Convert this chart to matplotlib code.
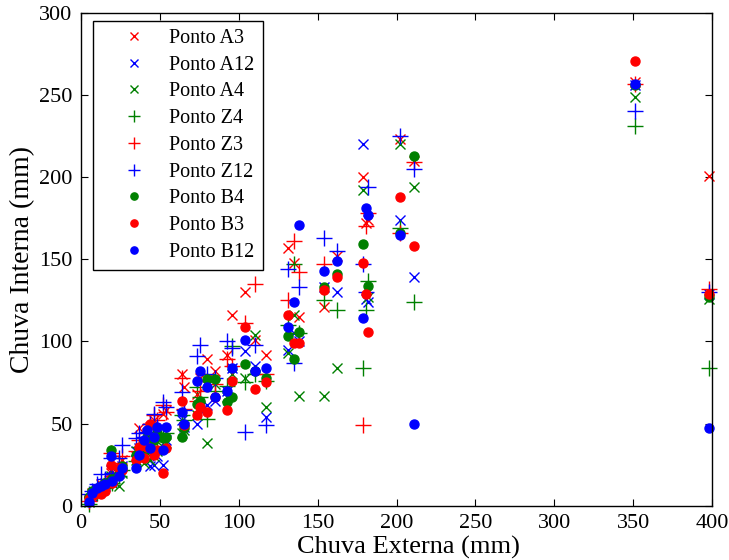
import numpy as np
import matplotlib
matplotlib.use("Agg")
import matplotlib.pyplot as plt

nan = np.nan

# external rainfall per event (mm)
chuva_externa = [5, 7, 10, 13, 15, 19, 20, 24, 26, 35, 37, 40, 42, 44, 46, 48, 52, 54,
                 64, 65, 73.5, 75.5, 80, 85, 92.5, 95.5, 104, 110, 117, 131, 135, 138,
                 154, 162, 179, 180.5, 182, 202, 211, 351, 398]

# internal rainfall (mm) per measuring point, same order as chuva_externa
ponto_a3 = [4, 8, 10, 13, 14, 20, 16, 22, 28, 30, 47, 38, 44, 48, 52, 45, 56, 58,
            80, 72, 68, 78, 89, 82, 92, 116, 130, 101, 92, 157, 148, 115,
            121, 152, 200, 172, 174, 223, 210, 258, 201]
ponto_a12 = [3, 6, 8, 10, 12, 22, 15, 20, 24, 33, 35, 30, 36, 24, 25, 30, 25, 40,
             52, 48, 50, 58, 61, 64, 70, 84, 94, 85, 54, 95, 105, 100,
             133, 130, 220, 126, 124, 174, 139, 256, 129]
ponto_a4 = [2, 7, 9, 11, 13, 18, 14, 12, 20, 28, 30, 26, 32, 28, 30, 33, 36, 38,
            44, 46, 55, 60, 38, 74, 66, 80, 78, 104, 60, 93, 116, 67,
            67, 84, 192, nan, 127, 220, 194, 249, 126]
ponto_z4 = [1, 5, 8, 10, 11, 17, 14, 18, 22, 27, 36, 32, 38, 33, 35, 40, 42, 44,
            55, 52, 72, 66, 53, 70, 73, 97, 75, 80, 76, 110, 147, 105,
            125, 119, 84, 119, 137, 169, 124, 231, 84]
ponto_z3 = [3, 6, 9, 12, 14, 32, 18, 26, 30, 33, 40, 36, 44, 50, 55, 52, 61, 57,
            78, 59, 64, 70, 76, 74, 89, 85, 111, 135, 80, 125, 161, 142,
            147, nan, 49, 170, 178, 166, 209, 257, 132]
ponto_z12 = [7, 9, 13, 19, 16, 29, 20, 29, 37, 41, 44, 42, 45, 50, 56, 48, 63, 60,
             69, 58, 91, 98, 80, 78, 100, 96, 45, 98, 49, 144, 87, 133,
             163, 155, 147, 130, 194, 225, 205, 240, 130]
ponto_b4 = [5, 9, 10, 12, 14, 34, 16, 19, 24, 31, 35, 33, 42, 38, 40, 44, 41, 42,
            42, 47, 62, 64, 77, 77, 63, 66, 86, 82, 78, 103, 89, 106,
            133, 141, 159, nan, 134, 166, 213, 256, 127]
ponto_b3 = [4, 6, 8, 7, 9, 25, 14, 23, 22, 28, 36, 29, 36, 50, 31, 34, 20, 35,
            64, 49, 55, 60, 57, 66, 58, 76, 109, 71, 75, 116, 99, 99,
            131, 139, 148, 129, 106, 188, 158, 271, 129]
ponto_b12 = [2, 8, 11, 12, 13, 30, 15, 18, 23, 23, 31, 40, 46, 35, 42, 48, 34, 48,
             57, 50, 76, 82, 72, 66, 70, 84, 101, 82, 84, 109, 124, 171,
             143, 149, 114, 181, 177, 165, 50, 257, 47]

series = [
    ("Ponto A3", ponto_a3, "x", "red"),
    ("Ponto A12", ponto_a12, "x", "blue"),
    ("Ponto A4", ponto_a4, "x", "green"),
    ("Ponto Z4", ponto_z4, "+", "green"),
    ("Ponto Z3", ponto_z3, "+", "red"),
    ("Ponto Z12", ponto_z12, "+", "blue"),
    ("Ponto B4", ponto_b4, "o", "green"),
    ("Ponto B3", ponto_b3, "o", "red"),
    ("Ponto B12", ponto_b12, "o", "blue"),
]

plt.rcParams["font.family"] = ["Liberation Serif", "DejaVu Serif"]

fig = plt.figure(figsize=(7.29, 5.6), dpi=100)
ax = fig.add_axes([0.111, 0.097, 0.866, 0.88])

x = np.array(chuva_externa, dtype=float)
for label, vals, mk, col in series:
    y = np.array(vals, dtype=float)
    if mk == "o":
        ax.plot(x, y, ls="none", marker="o", ms=6.5, mfc=col, mec=col, color=col,
                label=label, clip_on=False)
    elif mk == "+":
        ax.plot(x, y, ls="none", marker="+", ms=11, mew=1.0, color=col,
                label=label, clip_on=False)
    else:
        ax.plot(x, y, ls="none", marker="x", ms=6.5, mew=1.0, color=col,
                label=label, clip_on=False)

ax.set_xlim(0, 400)
ax.set_ylim(0, 300)
ax.set_xticks(np.arange(0, 401, 50))
ax.set_yticks(np.arange(0, 301, 50))
ax.tick_params(direction="in", top=True, right=True, labelsize=16, length=5,
               width=0.8, pad=6)
for s in ax.spines.values():
    s.set_linewidth(1.0)
ax.set_xlabel("Chuva Externa (mm)", fontsize=19, labelpad=1)
ax.xaxis.set_label_coords(0.518, -0.062)
ax.set_ylabel("Chuva Interna (mm)", fontsize=20, labelpad=3)

leg = ax.legend(loc="upper left", bbox_to_anchor=(0.019, 0.984), borderaxespad=0,
                fontsize=14.5, frameon=True, fancybox=False, edgecolor="black",
                framealpha=1, handlelength=3.3, handletextpad=0.1,
                labelspacing=0.38, borderpad=0.4, markerscale=0.8)
leg.get_frame().set_linewidth(1.0)

fig.savefig("out.png", dpi=100)
